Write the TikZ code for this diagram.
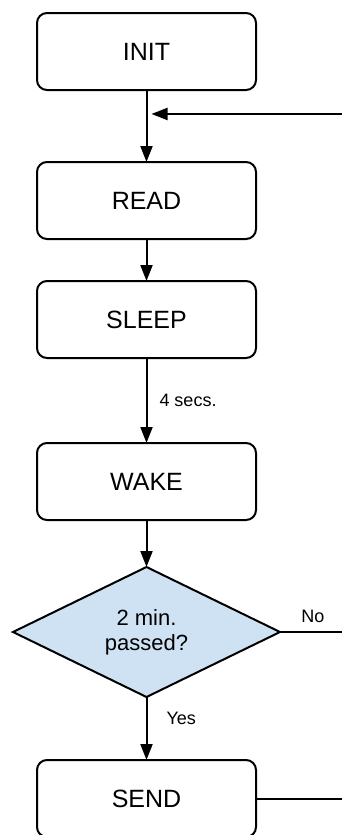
\documentclass[tikz,border=0pt]{standalone}
\usepackage{fontspec}
\setmainfont{Liberation Sans}
\usetikzlibrary{positioning, calc, shapes.geometric, arrows.meta}
\definecolor{decisionblue}{HTML}{CFE2F3}

\begin{document}
\begin{tikzpicture}[
		StateNode/.style={rectangle, rounded corners=10pt, draw=black, line width=2pt, minimum width=219pt, minimum height=77pt, outer sep=0pt, font=\fontsize{25}{30}\selectfont},
		DecisionNode/.style={diamond, draw=black, fill=decisionblue, line width=2pt, minimum width=267pt, minimum height=130pt, aspect=2, inner sep=0pt, outer sep=0pt, align=center, font=\fontsize{22}{25}\selectfont},
		FlowLine/.style={line width=2pt, -{Triangle[length=16pt, width=12pt]}},
		EdgeLabel/.style={inner sep=0pt, font=\fontsize{18}{21}\selectfont}]

	\useasboundingbox (0pt, 0pt) rectangle (342pt, -835pt);

	% Nodes
	\node[StateNode] (INIT) at (146.5pt, -51.5pt) {INIT};
	\node[StateNode] (READ) [below=72pt of INIT] {READ};
	\node[StateNode] (SLEEP) [below=42pt of READ] {SLEEP};
	\node[StateNode] (WAKE) [below=85pt of SLEEP] {WAKE};
	\node[DecisionNode] (DEC) [below=47pt of WAKE] {2 min.\\passed?};
	\node[StateNode] (SEND) [below=63pt of DEC] {SEND};

	\coordinate (RightEdge) at (346pt, 0pt);
	\coordinate (Merge) at ($(INIT.south)!0.333!(READ.north)$);
	\coordinate (LoopIn) at (Merge -| RightEdge);
	\coordinate (NoEnd) at (DEC.east -| RightEdge);
	\coordinate (SendEnd) at (SEND.east -| RightEdge);

	% Lines
	\draw[FlowLine] (INIT) -- (READ);
	\draw[FlowLine, shorten >=5pt] (LoopIn) -- (Merge);
	\draw[FlowLine] (READ) -- (SLEEP);
	\draw[FlowLine] (SLEEP) -- node[EdgeLabel, right=12pt] {4 secs.} (WAKE);
	\draw[FlowLine] (WAKE) -- (DEC);
	\draw[FlowLine] (DEC) -- node[EdgeLabel, pos=0.34, right=19pt] {Yes} (SEND);
	\draw[line width=2pt] (DEC) -- node[EdgeLabel, above=8pt] {No} (NoEnd);
	\draw[line width=2pt] (SEND) -- (SendEnd);
\end{tikzpicture}
\end{document}
